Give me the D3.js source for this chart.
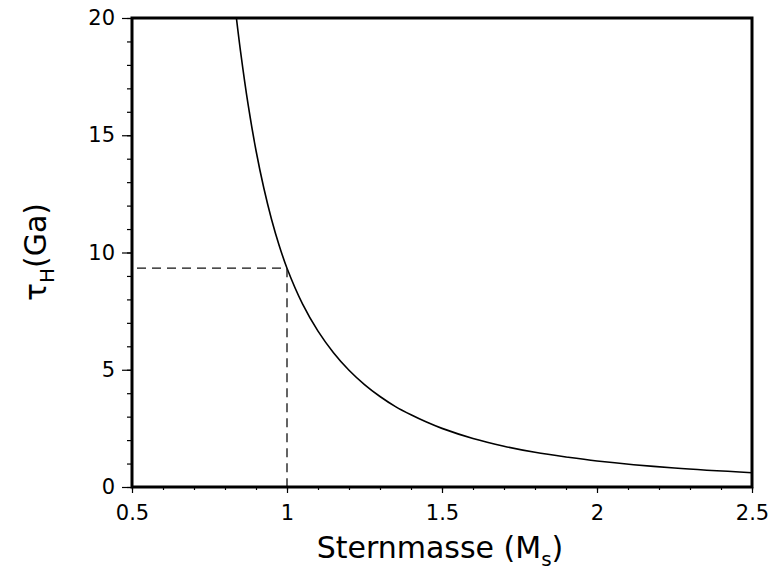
<!DOCTYPE html>
<html>
<head>
<meta charset="utf-8">
<script src="https://cdn.jsdelivr.net/npm/d3@7"></script>
<style>
  body { margin: 0; background: #fff; }
  text { font-family: "DejaVu Sans", sans-serif; fill: #000; }
</style>
</head>
<body>
<script>
  var w = 772;
  var h = 573;
  var padding = { left: 132, right: 20, top: 18, bottom: 86 };

  // curve: star mass (solar masses) vs hydrogen burning time (Ga)
  var mass = [0.835, 0.85, 0.875, 0.9, 0.925, 0.95, 0.975, 1.0, 1.05, 1.1, 1.15, 1.2, 1.25, 1.3, 1.35, 1.4, 1.45, 1.5, 1.6, 1.7, 1.8, 1.9, 2.0, 2.25, 2.5];
  var tau  = [20.2, 18.59, 16.27, 14.35, 12.76, 11.42, 10.29, 9.33, 7.81, 6.65, 5.73, 4.98, 4.37, 3.86, 3.43, 3.08, 2.77, 2.50, 2.07, 1.74, 1.48, 1.28, 1.11, 0.81, 0.61];

  // marked point (the sun)
  var markMass = [1.0];
  var markTau = [9.33];

  var xTicks = [0.5, 1, 1.5, 2, 2.5];
  var xTickLabels = ["0.5", "1", "1.5", "2", "2.5"];
  var yTicks = [0, 5, 10, 15, 20];
  var yTickLabels = ["0", "5", "10", "15", "20"];
  var xMinor = d3.range(5, 26).map(function (d) { return d / 10; });
  var yMinor = d3.range(0, 21);

  var svg = d3.select("body").append("svg")
    .attr("width", w)
    .attr("height", h);

  var xScale = d3.scaleLinear()
    .domain([0.5, 2.5])
    .range([padding.left, w - padding.right]);

  var yScale = d3.scaleLinear()
    .domain([0, 20])
    .range([h - padding.bottom, padding.top]);

  var bottom = h - padding.bottom;

  // minor ticks
  svg.append("g")
    .attr("transform", "translate(0," + bottom + ")")
    .call(d3.axisBottom(xScale).tickValues(xMinor).tickSize(3).tickFormat(""))
    .call(function (g) { g.select(".domain").remove(); g.selectAll("line").attr("stroke-width", 1.2); });

  svg.append("g")
    .attr("transform", "translate(" + padding.left + ",0)")
    .call(d3.axisLeft(yScale).tickValues(yMinor).tickSize(5).tickFormat(""))
    .call(function (g) { g.select(".domain").remove(); g.selectAll("line").attr("stroke-width", 1.2); });

  // major ticks with labels
  svg.append("g")
    .attr("transform", "translate(0," + bottom + ")")
    .call(d3.axisBottom(xScale).tickValues(xTicks).tickSize(6).tickPadding(12)
      .tickFormat(function (d, i) { return xTickLabels[i]; }))
    .call(function (g) {
      g.select(".domain").remove();
      g.selectAll("line").attr("stroke-width", 1.2);
      g.selectAll("text").attr("font-size", 21).attr("font-family", "DejaVu Sans");
    });

  svg.append("g")
    .attr("transform", "translate(" + padding.left + ",0)")
    .call(d3.axisLeft(yScale).tickValues(yTicks).tickSize(10).tickPadding(7)
      .tickFormat(function (d, i) { return yTickLabels[i]; }))
    .call(function (g) {
      g.select(".domain").remove();
      g.selectAll("line").attr("stroke-width", 1.2);
      g.selectAll("text").attr("font-size", 21).attr("font-family", "DejaVu Sans");
    });

  // clip for curve
  svg.append("clipPath").attr("id", "plot")
    .append("rect")
    .attr("x", padding.left)
    .attr("y", padding.top)
    .attr("width", w - padding.left - padding.right)
    .attr("height", h - padding.top - padding.bottom);

  var points = mass.map(function (m, i) { return [m, tau[i]]; });

  var line = d3.line()
    .x(function (d) { return xScale(d[0]); })
    .y(function (d) { return yScale(d[1]); })
    .curve(d3.curveCatmullRom.alpha(0.5));

  svg.append("path")
    .datum(points)
    .attr("clip-path", "url(#plot)")
    .attr("fill", "none")
    .attr("stroke", "#000")
    .attr("stroke-width", 1.6)
    .attr("d", line);

  // dashed guide lines
  markMass.forEach(function (m, i) {
    svg.append("line")
      .attr("x1", xScale(m)).attr("x2", xScale(0.5))
      .attr("y1", yScale(markTau[i])).attr("y2", yScale(markTau[i]))
      .attr("stroke", "#111")
      .attr("stroke-width", 1.3)
      .attr("stroke-dasharray", "9,6")
      .attr("stroke-dashoffset", 9);
    svg.append("line")
      .attr("x1", xScale(m)).attr("x2", xScale(m))
      .attr("y1", yScale(markTau[i])).attr("y2", yScale(0))
      .attr("stroke", "#111")
      .attr("stroke-width", 1.3)
      .attr("stroke-dasharray", "9,6");
  });

  // frame
  svg.append("rect")
    .attr("x", padding.left)
    .attr("y", padding.top)
    .attr("width", w - padding.left - padding.right)
    .attr("height", h - padding.top - padding.bottom)
    .attr("fill", "none")
    .attr("stroke", "#000")
    .attr("stroke-width", 3);

  // axis titles
  var xt = svg.append("text")
    .attr("x", 440)
    .attr("y", 558)
    .attr("text-anchor", "middle")
    .attr("font-size", 30);
  xt.append("tspan").text("Sternmasse (M");
  xt.append("tspan").attr("font-size", 20).attr("dy", 8).text("s");
  xt.append("tspan").attr("dy", -8).text(")");

  var yt = svg.append("text")
    .attr("transform", "translate(46,252) rotate(-90)")
    .attr("text-anchor", "middle")
    .attr("font-size", 30);
  yt.append("tspan").text("\u03C4");
  yt.append("tspan").attr("font-size", 20).attr("dy", 8).text("H");
  yt.append("tspan").attr("dy", -8).text("(Ga)");
</script>
</body>
</html>
